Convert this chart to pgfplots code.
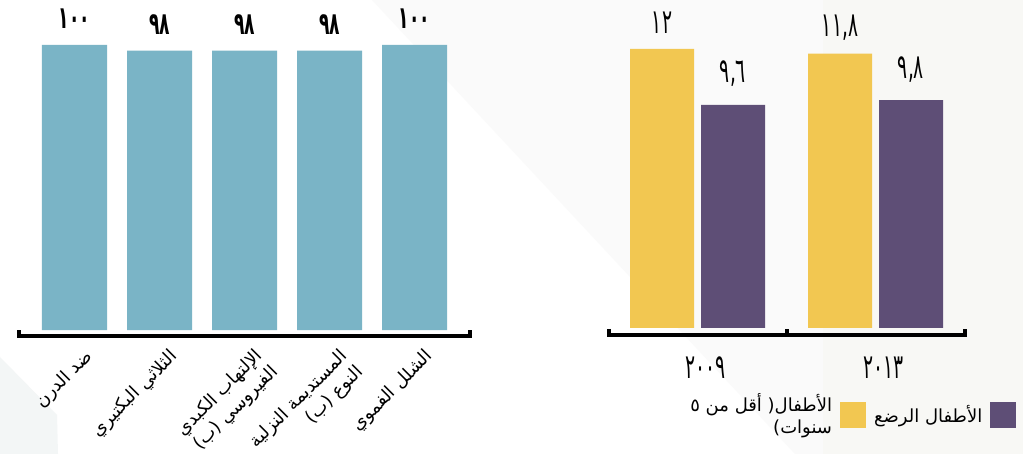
\documentclass[border=0pt]{standalone}
\usepackage{fontspec}
\setmainfont{DejaVu Sans}
\newfontfamily\arabicfont[Script=Arabic]{DejaVu Sans}
\newfontfamily\digitfont[Script=Arabic,FakeStretch=0.55]{DejaVu Sans}
\usepackage{pgfplots}
\pgfplotsset{compat=1.18}
\TeXXeTstate=1

\definecolor{vacc}{HTML}{7AB4C6}
\definecolor{kids}{HTML}{F2C751}
\definecolor{infants}{HTML}{5E4E76}
\definecolor{bgfaint}{HTML}{FAFAFA}
\definecolor{bgright}{HTML}{F8F8F5}
\definecolor{bgleft}{HTML}{F3F6F6}

\begin{document}
\begin{tikzpicture}
\path[use as bounding box] (0bp,0bp) rectangle (1023bp,454bp);
\fill[white] (0bp,0bp) rectangle (1023bp,454bp);
\fill[bgfaint] (372bp,454bp) -- (823bp,454bp) -- (823bp,0bp) -- (795bp,0bp) -- cycle;
\fill[bgright] (823bp,0bp) rectangle (1023bp,454bp);
\fill[bgleft] (0bp,97bp) -- (57bp,39bp) -- (58bp,0bp) -- (0bp,0bp) -- cycle;

% left: vaccination coverage
\begin{axis}[
  at={(19.25bp,124bp)}, anchor=south west,
  scale only axis, width=450.5bp, height=313.5bp,
  xmin=-0.65, xmax=4.65, ymin=0, ymax=110,
  clip=false,
  axis line style={draw=none}, tick style={draw=none},
  ytick=\empty, xtick={0,1,2,3,4},
  xticklabels={
    {\beginR ضد الدرن\endR},
    {\beginR الثلاثي البكتيري\endR},
    {\beginR الإلتهاب الكبدي\endR\\\beginR الفيروسي (ب)\endR},
    {\beginR المستديمة النزلية\endR\\\beginR النوع (ب)\endR},
    {\beginR الشلل الفموي\endR}},
  xticklabel style={font=\arabicfont\fontsize{18bp}{22bp}\selectfont,
    align=right, inner sep=0pt, anchor=north east,
    xshift=9bp, yshift=-13bp, rotate=45},
  ybar, bar width=65bp,
]
\addplot[fill=vacc, draw=none,
  nodes near coords={\pgfplotspointmeta}, point meta=explicit symbolic,
  every node near coord/.append style={font=\digitfont\bfseries\fontsize{31bp}{33bp}\selectfont,
    anchor=center, yshift=26bp}]
  coordinates {(0,100) [١٠٠] (1,98) [٩٨] (2,98) [٩٨] (3,98) [٩٨] (4,100) [١٠٠]};
\draw[line width=4bp] (axis cs:-0.65,0) |- (axis cs:4.65,-1.93) -- (axis cs:4.65,0);
\end{axis}

% right: infants vs children under five
\begin{axis}[
  at={(608.5bp,126bp)}, anchor=south west,
  scale only axis, width=356bp, height=313.9bp,
  xmin=-0.5, xmax=1.5, ymin=0, ymax=13.5,
  clip=false,
  axis line style={draw=none}, tick style={draw=none},
  ytick=\empty, xtick={0,1}, xticklabels={٢٠٠٩,٢٠١٣},
  xticklabel style={font=\digitfont\fontsize{34bp}{36bp}\selectfont,
    anchor=center, xshift=8bp, yshift=-35bp},
  ybar, bar width=64bp,
  legend columns=2, legend plot pos=right,
  legend style={at={(1.146,-0.209)}, anchor=north east, draw=none, fill=none,
    inner sep=0pt, column sep=8bp,
    font=\arabicfont\fontsize{18bp}{22bp}\selectfont,
    nodes={align=right, inner sep=0pt}},
  legend image code/.code={\fill[#1] (0bp,-13bp) rectangle (26bp,13bp);},
]
\addplot[fill=kids, draw=none, bar shift=-35.5bp,
  nodes near coords={\pgfplotspointmeta}, point meta=explicit symbolic,
  every node near coord/.append style={font=\digitfont\fontsize{34bp}{36bp}\selectfont,
    anchor=center, yshift=26bp}]
  coordinates {(0,12) [١٢] (1,11.8) [{١١,٨}]};
\addlegendentry{\beginR الأطفال( أقل من ٥\endR\\\beginR سنوات)\endR}
\addplot[fill=infants, draw=none, bar shift=35.5bp,
  nodes near coords={\pgfplotspointmeta}, point meta=explicit symbolic,
  every node near coord/.append style={font=\digitfont\fontsize{34bp}{36bp}\selectfont,
    anchor=center, yshift=31bp}]
  coordinates {(0,9.6) [{٩,٦}] (1,9.8) [{٩,٨}]};
\addlegendentry{\beginR الأطفال الرضع\endR}
\draw[line width=4bp] (axis cs:-0.5,-0.04) |- (axis cs:1.5,-0.28) -- (axis cs:1.5,-0.04);
\draw[line width=4bp] (axis cs:0.5,-0.28) -- (axis cs:0.5,-0.04);
\end{axis}
\end{tikzpicture}
\end{document}
